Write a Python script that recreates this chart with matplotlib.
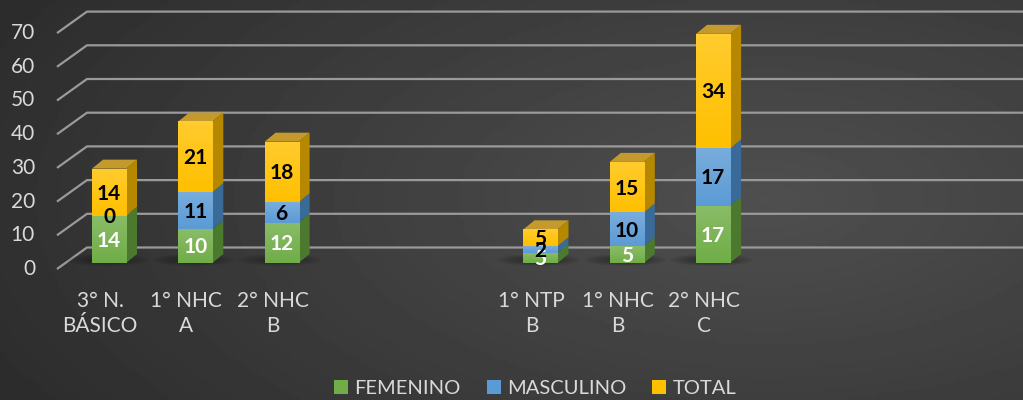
import matplotlib.pyplot as plt
import numpy as np
from matplotlib.patches import Polygon, Ellipse, Patch
from matplotlib.colors import LinearSegmentedColormap, to_rgb

# --- data ---
categorias = ['3° N.\nBÁSICO', '1° NHC\nA', '2° NHC\nB', '', '',
              '1° NTP\nB', '1° NHC\nB', '2° NHC\nC', '', '', '']
femenino = [14, 10, 12, None, None, 3, 5, 17, None, None, None]
masculino = [0, 11, 6, None, None, 2, 10, 17, None, None, None]
total = [14, 21, 18, None, None, 5, 15, 34, None, None, None]
etiquetas_fem = ['14', '10', '12', '', '', '5', '5', '17', '', '', '']
ticks_y = [0, 10, 20, 30, 40, 50, 60, 70]

series = [
    ('FEMENINO', femenino, '#70ad47', '#4b7a2e', 'white'),
    ('MASCULINO', masculino, '#5b9bd5', '#3a6a98', 'black'),
    ('TOTAL', total, '#ffc000', '#b58800', 'black'),
]
top_color = {'FEMENINO': '#4f7d33', 'MASCULINO': '#3f6f9c', 'TOTAL': '#c49a2c'}

plt.rcParams['font.family'] = ['Lato', 'DejaVu Sans']

fig = plt.figure(figsize=(10.23, 4.0), dpi=100)
ax = fig.add_axes([0, 0, 1, 1])
# front plane of bars: index i -> px 109 + 86.3 i ; value v -> px 263 - 3.37 v
px_x, px_y = 86.3, 3.37
ax.set_xlim(-109 / px_x, (1023 - 109) / px_x)
ax.set_ylim((263 - 400) / px_y, 263 / px_y)
ax.axis('off')

# background gradient
gx = np.linspace(0, 1, 300)
gy = np.linspace(0, 1, 120)
X, Y = np.meshgrid(gx, gy)
r = np.sqrt(((X - 0.75) / 1.0) ** 2 + ((Y - 0.5) / 1.2) ** 2)
val = np.clip(0.31 - 0.16 * r, 0.15, 0.31)
ax.imshow(val, cmap='gray', vmin=0, vmax=1, extent=[0, 1, 0, 1],
          transform=ax.transAxes, aspect='auto', zorder=0)

# wall gridlines (3D wall)
x_front = -52 / px_x
wall_dx, wall_dy = 30 / px_x, 21.5 / px_y
front_off = -6 / px_y
x_max = ax.get_xlim()[1]
for t in ticks_y:
    yf = t + front_off
    ax.plot([x_front, x_front + wall_dx, x_max], [yf, yf + wall_dy, yf + wall_dy],
            color='#9a9a9a', lw=1.6, zorder=1, solid_capstyle='butt')
    ax.text(x_front - 22 / px_x, yf, str(t), ha='right', va='center',
            color='#d9d9d9', fontsize=15)


def lighter(c, f):
    r_, g_, b_ = to_rgb(c)
    return (r_ + (1 - r_) * f, g_ + (1 - g_) * f, b_ + (1 - b_) * f)


# bars
w = 0.197
dx, dy = 11 / px_x, 9 / px_y
idx = np.arange(len(categorias))
bottoms = np.zeros(len(categorias))
tops = {}
grad = np.linspace(0, 1, 64).reshape(-1, 1)
for nombre, vals, c_front, c_side, c_txt in series:
    cmap = LinearSegmentedColormap.from_list(nombre, [c_front, lighter(c_front, 0.18)])
    for i in idx:
        v = vals[i]
        if v is None:
            continue
        b = bottoms[i]
        t = b + v
        if v > 0:
            bar = ax.bar(i, v, width=2 * w, bottom=b, color=c_front, zorder=4, linewidth=0)[0]
            im = ax.imshow(grad, cmap=cmap, origin='lower', aspect='auto',
                           extent=[i - w, i + w, b, t], zorder=4.1)
            im.set_clip_path(bar)
            ax.add_patch(Polygon([(i + w, b), (i + w + dx, b + dy), (i + w + dx, t + dy), (i + w, t)],
                                 closed=True, facecolor=c_side, edgecolor='none', zorder=4))
            tops[i] = (t, nombre)
        lab = etiquetas_fem[i] if nombre == 'FEMENINO' else str(v)
        ax.text(i, b + v / 2 - 0.4, lab, ha='center', va='center', color=c_txt,
                fontsize=15, fontweight='bold', zorder=6)
        bottoms[i] = t

for i, (t, nombre) in tops.items():
    ax.add_patch(Polygon([(i - w, t), (i - w + dx, t + dy), (i + w + dx, t + dy), (i + w, t)],
                         closed=True, facecolor=top_color[nombre], edgecolor='none', zorder=4))
    # soft shadow under each bar
    for k in range(6):
        ax.add_patch(Ellipse((i - 0.02, 0.9), 0.95 - 0.1 * k, 3.6 - 0.4 * k,
                             facecolor='#151515', alpha=0.08, edgecolor='none', zorder=2))

ax.set_xlim(-109 / px_x, (1023 - 109) / px_x)
ax.set_ylim((263 - 400) / px_y, 263 / px_y)

# category labels
for i, c in enumerate(categorias):
    if c:
        ax.text(i - 9 / px_x, -8.4, c, ha='center', va='top', color='#d9d9d9', fontsize=15,
                linespacing=1.3)

handles = [Patch(facecolor=s[2], label=s[0]) for s in series]
fig.legend(handles=handles, loc='center', bbox_to_anchor=(0.523, 0.028), ncol=3,
           frameon=False, fontsize=14.5, labelcolor='#d9d9d9', handlelength=0.7,
           handleheight=0.7, handletextpad=0.3, columnspacing=1.3)

fig.savefig('out.png', dpi=100)
